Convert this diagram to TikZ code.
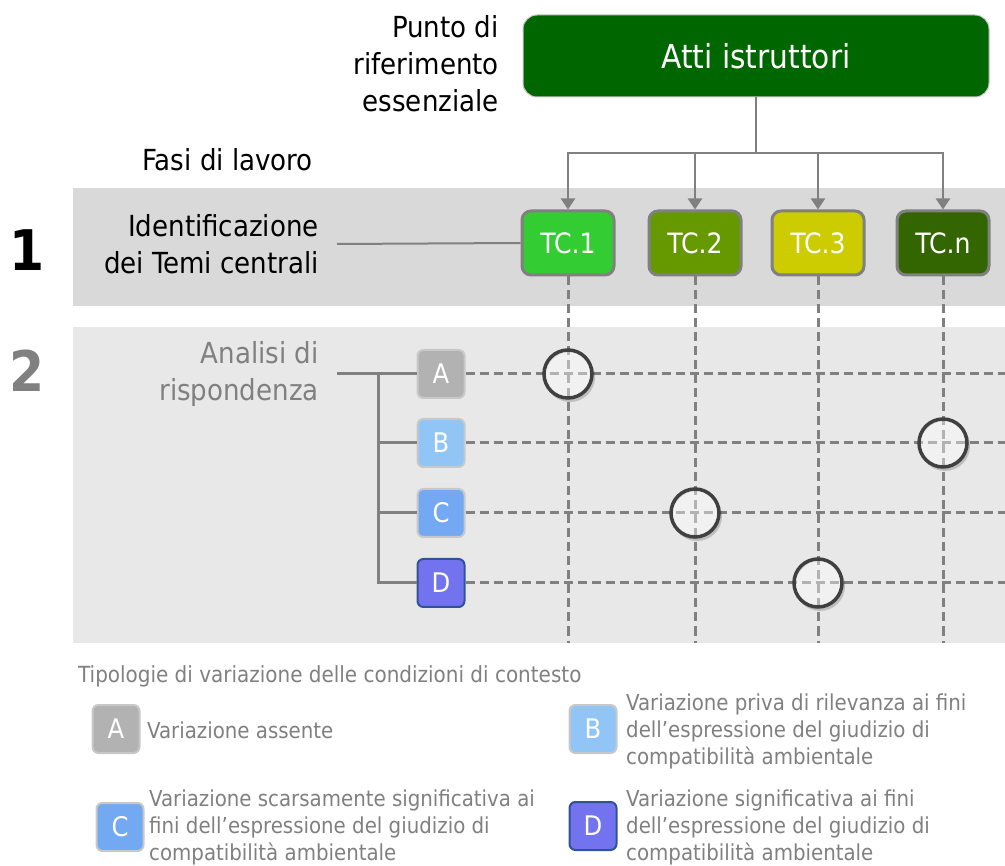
\documentclass[tikz,border=0pt]{standalone}
\usepackage{fontspec}
\setmainfont{DejaVu Sans Condensed}
\usepackage{xcolor}
\definecolor{attigreen}{RGB}{0, 102, 0}
\definecolor{attiedge}{RGB}{200, 200, 200}
\definecolor{tcone}{RGB}{51, 204, 51}
\definecolor{tctwo}{RGB}{102, 153, 0}
\definecolor{tcthree}{RGB}{204, 204, 0}
\definecolor{tcn}{RGB}{51, 102, 0}
\definecolor{bandone}{RGB}{217, 217, 217}
\definecolor{bandtwo}{RGB}{232, 232, 232}
\definecolor{linegray}{RGB}{128, 128, 128}
\definecolor{ringgray}{RGB}{64, 64, 64}
\definecolor{boxedge}{RGB}{200, 200, 200}
\definecolor{typeA}{RGB}{178, 178, 178}
\definecolor{typeB}{RGB}{145, 197, 245}
\definecolor{typeC}{RGB}{115, 168, 243}
\definecolor{typeD}{RGB}{115, 115, 240}
\definecolor{typeDedge}{RGB}{47, 84, 150}
\usetikzlibrary{arrows.meta, calc}

\newcommand{\lblsize}{\fontsize{29}{37}\selectfont}
\newcommand{\attisize}{\fontsize{33}{36}\selectfont}
\newcommand{\tcsize}{\fontsize{28}{30}\selectfont}
\newcommand{\typesize}{\fontsize{27}{28}\selectfont}
\newcommand{\legsize}{\fontsize{22}{27}\selectfont}
\newcommand{\headsize}{\fontsize{22.2}{24}\selectfont}
\newcommand{\numsize}{\fontsize{56}{60}\selectfont\bfseries}

\begin{document}
\begin{tikzpicture}[x=1pt, y=-1pt, >={Triangle[length=11pt, width=14pt]},
    tcbox/.style={draw=linegray, line width=3pt, rounded corners=9pt,
        minimum width=92pt, minimum height=64pt, inner sep=0pt,
        text=white, font=\tcsize},
    typebox/.style={draw=boxedge, line width=2pt, rounded corners=6pt,
        minimum width=47pt, minimum height=48pt, inner sep=0pt,
        text=white, font=\typesize},
    ring/.style={circle, draw=ringgray, line width=3.5pt, fill=white,
        fill opacity=0.4, minimum size=48pt, inner sep=0pt},
    link/.style={linegray, line width=2pt},
    treeline/.style={linegray, line width=3pt},
    gridline/.style={linegray, line width=3pt, dash pattern=on 9pt off 5pt},
    phaselabel/.style={anchor=east, align=right, inner sep=0pt, font=\lblsize},
    legtext/.style={anchor=west, align=left, inner sep=0pt,
        text=linegray, font=\legsize}]

\useasboundingbox (0,0) rectangle (1005,866);

% === Fasce delle fasi ===
\fill[bandone] (73,188) rectangle (1005,306);
\fill[bandtwo] (73,327) rectangle (1005,643);

% === Etichette a sinistra ===
\node[phaselabel] (punto) at (499,64) {Punto di\\riferimento\\essenziale};
\node[phaselabel] (fasi) at (313,160) {Fasi di lavoro};
\node[phaselabel] (ident) at (319,244) {Identificazione\\dei Temi centrali};
\node[phaselabel, text=linegray] (anal) at (319,374) {Analisi di\\rispondenza};

\node[font=\numsize, inner sep=0pt] (phaseone) at (27,250) {1};
\node[font=\numsize, inner sep=0pt, text=linegray] (phasetwo) at (27,371) {2};

% === Atti istruttori ===
\node[draw=attiedge, line width=1pt, fill=attigreen, rounded corners=14pt,
    minimum width=466pt, minimum height=82pt, text=white, font=\attisize]
    (atti) at (756,56) {Atti istruttori};

% === Temi centrali ===
\node[tcbox, fill=tcone] (tc1) at (568,243) {TC.1};
\node[tcbox, fill=tctwo] (tc2) at (695,243) {TC.2};
\node[tcbox, fill=tcthree] (tc3) at (818,243) {TC.3};
\node[tcbox, fill=tcn] (tcn) at (943,243) {TC.n};

\coordinate (split) at (756,153);
\draw[link] (atti.south) -- (split);
\foreach \t in {tc1, tc2, tc3, tcn}
    \draw[link, ->] (split) -| (\t.north);

\draw[link] ([xshift=18pt]ident.east) -- (tc1.west);

% === Tipologie A-D ===
\node[typebox, fill=typeA] (boxA) at (441,374) {A};
\node[typebox, fill=typeB] (boxB) at (441,443) {B};
\node[typebox, fill=typeC] (boxC) at (441,513) {C};
\node[typebox, fill=typeD, draw=typeDedge] (boxD) at (441,583) {D};

\coordinate (fork) at (378,374);
\draw[treeline] ([xshift=18pt]anal.east) -- (boxA.west);
\foreach \b in {boxB, boxC, boxD}
    \draw[treeline] (fork) |- (\b.west);

% === Griglia tratteggiata ===
\coordinate (bandend) at (0,643);
\coordinate (rightedge) at (1005,0);
\foreach \t in {tc1, tc2, tc3, tcn}
    \draw[gridline] (\t.south) -- (\t |- bandend);
\foreach \b in {boxA, boxB, boxC, boxD}
    \draw[gridline] (\b.east) -- (\b -| rightedge);

% === Incroci ===
\coordinate (hitA) at (tc1 |- boxA);
\coordinate (hitB) at (tcn |- boxB);
\coordinate (hitC) at (tc2 |- boxC);
\coordinate (hitD) at (tc3 |- boxD);

% ombra
\foreach \h in {hitA, hitB, hitC, hitD}
    \fill[black, opacity=0.18, even odd rule]
        ([shift={(2pt,-3pt)}]\h) circle (25pt) (\h) circle (23pt);

\node[ring] (ringA) at (hitA) {};
\node[ring] (ringB) at (hitB) {};
\node[ring] (ringC) at (hitC) {};
\node[ring] (ringD) at (hitD) {};

% === Legenda ===
\node[anchor=west, inner sep=0pt, font=\headsize, text=linegray] (legtitle)
    at (78,676) {Tipologie di variazione delle condizioni di contesto};

\node[typebox, fill=typeA] (legA) at (116,729) {A};
\node[typebox, fill=typeB] (legB) at (593,729) {B};
\node[typebox, fill=typeC] (legC) at (120,827) {C};
\node[typebox, fill=typeD, draw=typeDedge] (legD) at (593,826) {D};

\node[legtext] (legAtext) at (147,730) {Variazione assente};
\node[legtext] (legBtext) at (626,731)
    {Variazione priva di rilevanza ai fini\\dell’espressione del giudizio di\\compatibilità ambientale};
\node[legtext] (legCtext) at (149,827)
    {Variazione scarsamente significativa ai\\fini dell’espressione del giudizio di\\compatibilità ambientale};
\node[legtext] (legDtext) at (626,827)
    {Variazione significativa ai fini\\dell’espressione del giudizio di\\compatibilità ambientale};

\end{tikzpicture}
\end{document}
